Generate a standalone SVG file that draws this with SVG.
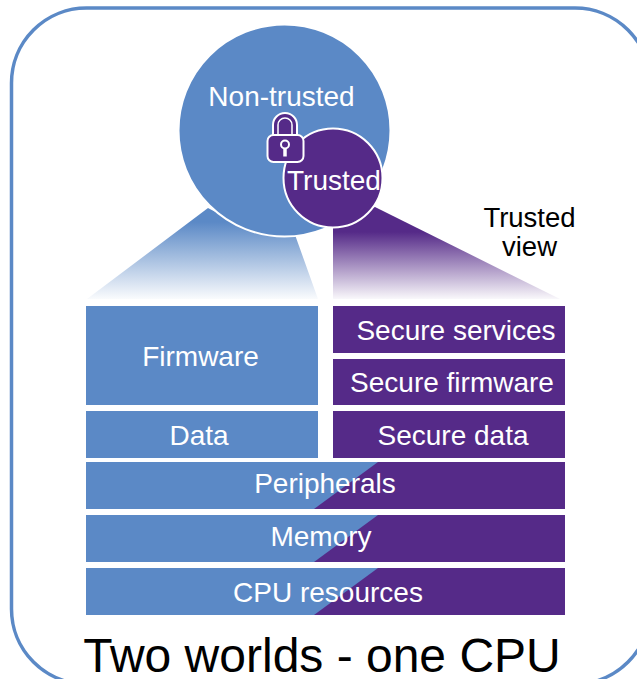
<svg xmlns="http://www.w3.org/2000/svg" width="637" height="679" viewBox="0 0 637 679">
<style>
.t{font-family:"Liberation Sans",Arial,sans-serif;font-size:28px;fill:#fff;text-anchor:middle}
.k{font-family:"Liberation Sans",Arial,sans-serif;fill:#000;text-anchor:middle}
.b{fill:#5b89c6}.p{fill:#552a88}
</style>
<defs>
<linearGradient id="gb" gradientUnits="userSpaceOnUse" x1="0" y1="222" x2="0" y2="300"><stop offset="0" stop-color="#5b89c6"/><stop offset="1" stop-color="#5b89c6" stop-opacity="0.02"/></linearGradient>
<linearGradient id="gp" gradientUnits="userSpaceOnUse" x1="0" y1="232" x2="0" y2="300"><stop offset="0" stop-color="#552a88"/><stop offset="1" stop-color="#552a88" stop-opacity="0.02"/></linearGradient>
</defs>
<rect id="frame" x="11.500" y="8" width="638.500" height="676" rx="75" ry="75" fill="#fff" stroke="#5b89c6" stroke-width="3.500"/>
<g id="connectors">
<polygon points="208,208 87,299 318,299 294,232 240,225" fill="url(#gb)"/>
<polygon points="333,222 333,299 560,299 375,207" fill="url(#gp)"/>
</g>
<g id="non-trusted"><circle cx="284.500" cy="130.500" r="106" class="b" stroke="#fff" stroke-width="2"/><text class="t" x="281.500" y="106">Non-trusted</text></g>
<g id="trusted"><circle cx="333" cy="178" r="49.500" class="p" stroke="#fff" stroke-width="2"/><text class="t" x="334" y="190">Trusted</text></g>
<g id="lock">
<path d="M273 137V125a12 12 0 0 1 24 0V137Z" class="p" stroke="#fff" stroke-width="2"/>
<path d="M278 137V125a7 7 0 0 1 14 0V137Z" class="p" stroke="#fff" stroke-width="1.500"/>
<rect x="267.500" y="135" width="36" height="27" rx="6" class="p" stroke="#fff" stroke-width="2"/>
<circle cx="285" cy="144.500" r="4" fill="none" stroke="#fff" stroke-width="2"/>
<path d="M285 149V156.500" fill="none" stroke="#fff" stroke-width="3.500"/>
</g>
<g id="trusted-view"><text class="k" font-size="27.500" x="529.500" y="227">Trusted</text><text class="k" font-size="27.500" x="529.500" y="256">view</text></g>
<g id="firmware"><rect x="86" y="306" width="232" height="99" class="b"/><text class="t" x="200.500" y="366">Firmware</text></g>
<g id="data"><rect x="86" y="411" width="232" height="47" class="b"/><text class="t" x="199" y="445">Data</text></g>
<g id="secure-services"><rect x="333" y="306" width="232" height="47" class="p"/><text class="t" x="456" y="340">Secure services</text></g>
<g id="secure-firmware"><rect x="333" y="359" width="232" height="46" class="p"/><text class="t" x="452" y="392">Secure firmware</text></g>
<g id="secure-data"><rect x="333" y="411" width="232" height="47" class="p"/><text class="t" x="453" y="445">Secure data</text></g>
<g id="peripherals"><rect x="314" y="462" width="251" height="47" class="p"/><polygon points="86,462 378,462 314,509 86,509" class="b"/><text class="t" x="325" y="493">Peripherals</text></g>
<g id="memory"><rect x="314" y="515" width="251" height="47" class="p"/><polygon points="86,515 378,515 314,562 86,562" class="b"/><text class="t" x="321" y="546">Memory</text></g>
<g id="cpu-resources"><rect x="314" y="568" width="251" height="47" class="p"/><polygon points="86,568 378,568 314,615 86,615" class="b"/><text class="t" x="328" y="602">CPU resources</text></g>
<text id="title" class="k" font-size="48" x="322" y="672">Two worlds - one CPU</text>
</svg>
